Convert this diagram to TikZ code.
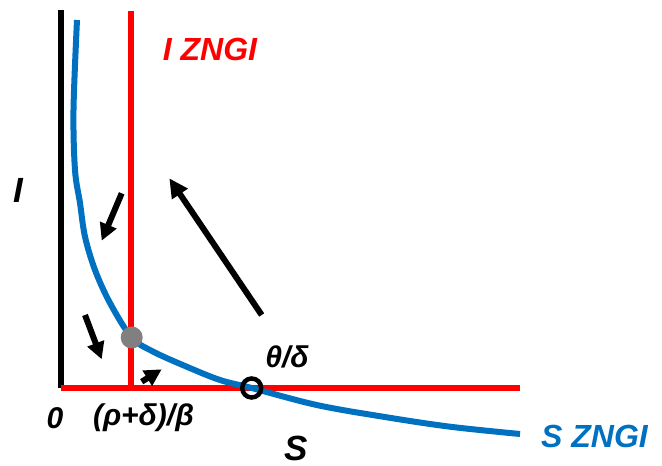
\documentclass[tikz,border=0pt]{standalone}
\usepackage{fontspec}
\setmainfont{Liberation Sans}
\usepackage{xcolor}
\usetikzlibrary{arrows.meta,positioning,calc}
\definecolor{zblue}{RGB}{0,112,192}

\begin{document}
\begin{tikzpicture}[
  x=1pt,y=1pt,
  ax/.style={line width=6pt},
  zngi/.style={draw=red,line width=6pt},
  scurve/.style={draw=zblue,line width=6pt},
  lab/.style={font=\fontsize{32}{36}\selectfont\bfseries\itshape,inner sep=0pt},
  big/.style={font=\fontsize{35}{38}\selectfont\bfseries\itshape,inner sep=0pt},
  tick/.style={font=\fontsize{30}{34}\selectfont\bfseries\itshape,inner sep=0pt},
  flow/.style={line width=6pt,-{Triangle[length=19pt,width=18pt]}},
  sflow/.style={line width=6pt,-{Triangle[length=17pt,width=17pt]}}
]
\useasboundingbox (-61,-78) rectangle (601,388);

% axes and I ZNGI
\coordinate (O) at (0,0);
\coordinate (ytop) at (0,378);
\coordinate (xend) at (459,0);
\coordinate (izb) at (70,0);
\coordinate (izt) at (70,377);
\draw[ax] (O) -- (ytop);
\draw[zngi] (izb) -- (izt);
\draw[zngi] (O) -- (xend);

% S ZNGI
\draw[scurve] plot[smooth,tension=0.55] coordinates {
  (16,368) (12.5,278) (14,218) (19,185) (24,151.3) (34,118) (49,85)
  (70.7,50.5) (92.3,36.3) (125.7,21.3) (159,8) (190.7,0)
  (255.7,-17) (322,-28.7) (389,-38.7) (459,-46)};

\node[circle,fill=gray,minimum size=22pt,inner sep=0pt] (eqint) at (70.7,50.5) {};
\node[circle,draw=black,line width=4.5pt,minimum size=19pt,inner sep=0pt] (eqdfe) at (190.7,0) {};

% labels
\node[lab,text=red] (lizngi) at (149,339) {I ZNGI};
\node[lab,text=zblue] (lszngi) at (533.5,-48) {S ZNGI};
\node[big] (lI) at (-43,198) {I};
\node[big] (lS) at (235,-60) {S};
\node[tick] (l0) at (-6,-30) {0};
\node[tick] (lrdb) at (82.5,-30) {(ρ+δ)/β};
\node[tick] (ltd) at (226,31) {θ/δ};

% flow arrows
\coordinate (a1s) at (200.7,73);
\coordinate (a1e) at (108.3,209.7);
\coordinate (a2s) at (60.7,194.7);
\coordinate (a2e) at (40.7,147.3);
\coordinate (a3s) at (24,73);
\coordinate (a3e) at (40.7,28.7);
\coordinate (a4s) at (80.7,6.3);
\coordinate (a4e) at (100.7,18.7);
\draw[flow] (a1s) -- (a1e);
\draw[sflow] (a2s) -- (a2e);
\draw[sflow] (a3s) -- (a3e);
\draw[sflow] (a4s) -- (a4e);
\end{tikzpicture}
\end{document}
